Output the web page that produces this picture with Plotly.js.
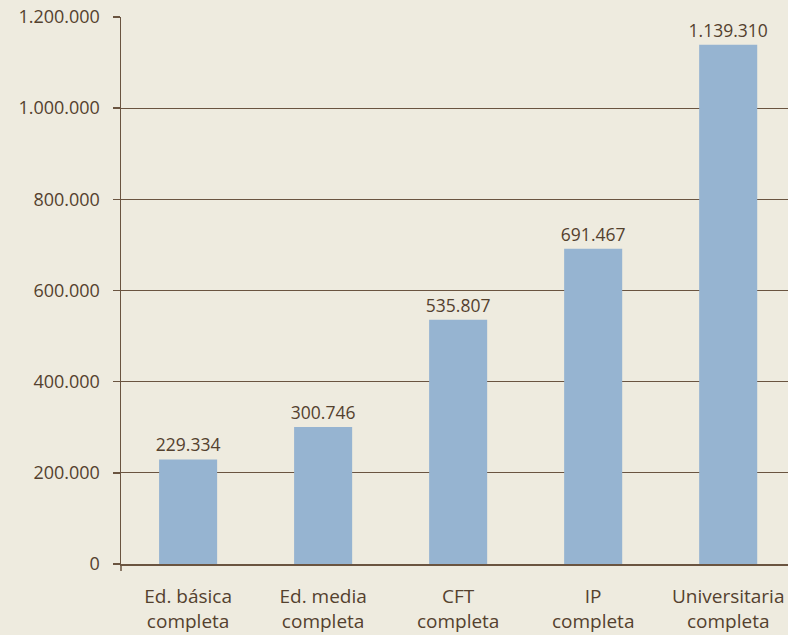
<!DOCTYPE html>
<html>
<head>
<meta charset="utf-8">
<script src="https://cdn.plot.ly/plotly-3.0.1.min.js"></script>
<style>html,body{margin:0;padding:0;background:#eeebdf;}</style>
</head>
<body>
<div id="chart" style="width:788px;height:635px;"></div>
<script>
const categories = ["Ed. básica<br>completa", "Ed. media<br>completa", "CFT<br>completa", "IP<br>completa", "Universitaria<br>completa"];
const values = [229334, 300746, 535807, 691467, 1139310];
const yTicks = [0, 200000, 400000, 600000, 800000, 1000000, 1200000];

const txt = "#54412e";
const lineC = "#6a5440";
const fam = "'Open Sans', sans-serif";

Plotly.newPlot("chart", [{
  type: "bar",
  x: categories,
  y: values,
  width: 0.43,
  marker: {color: "#96b4d1"},
  texttemplate: "%{y:,}",
  textposition: "outside",
  constraintext: "none",
  cliponaxis: false,
  textfont: {family: fam, size: 17.5, color: txt},
  hoverinfo: "none"
}], {
  width: 788, height: 635,
  margin: {l: 121, r: 0, t: 17, b: 71, pad: 0},
  paper_bgcolor: "#eeebdf",
  plot_bgcolor: "#eeebdf",
  separators: ",.",
  showlegend: false,
  font: {family: fam, size: 17, color: txt},
  xaxis: {
    range: [-0.497, 4.443],
    showline: true, linecolor: lineC, linewidth: 1.5,
    ticks: "", showgrid: false,
    tickfont: {family: fam, size: 19, color: txt},
    ticklabelstandoff: 15
  },
  yaxis: {
    range: [0, 1200000],
    tickvals: yTicks,
    tickformat: ",",
    showline: true, linecolor: lineC, linewidth: 1.5,
    ticks: "outside", ticklen: 7, tickcolor: lineC, tickwidth: 1.5,
    showgrid: true, gridcolor: lineC, gridwidth: 1,
    zeroline: false,
    tickfont: {family: fam, size: 18, color: txt},
    ticklabelstandoff: 9
  },
  shapes: [{
    type: "line", xref: "paper", yref: "paper",
    x0: 0, x1: 0, y0: 0, y1: -0.013,
    line: {color: lineC, width: 1.5}
  }]
}, {staticPlot: true});
</script>
</body>
</html>
